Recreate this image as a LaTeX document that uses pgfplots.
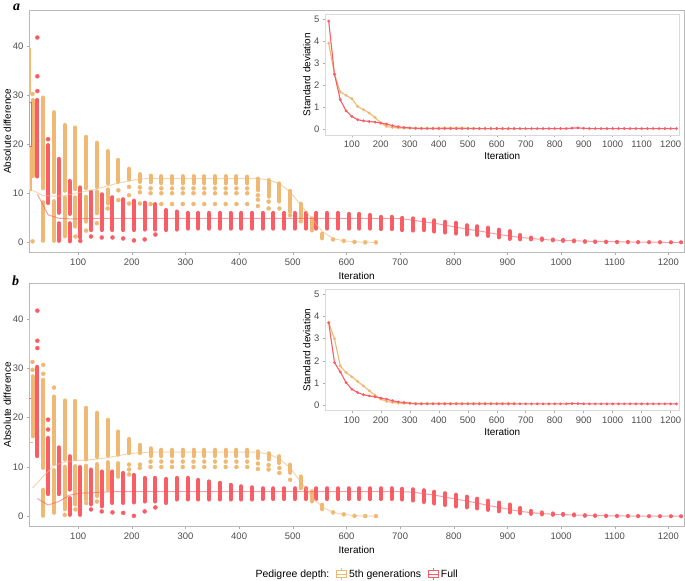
\documentclass[border=0pt]{standalone}
\usepackage{fontspec}
\setmainfont{Liberation Sans}
\newfontfamily\tagfont{Liberation Serif}
\usepackage{pgfplots}
\usepackage{pgfplotstable}
\pgfplotsset{compat=1.18}
\usepgfplotslibrary{statistics}

\definecolor{orng}{RGB}{240,185,115}
\definecolor{redd}{RGB}{249,93,101}
\definecolor{tickgray}{RGB}{77,77,77}

% ---------- panel a ----------
% dense columns of points: iteration, lowest, highest
\pgfplotstableread[row sep=\\]{
it lo hi\\
20 13.5 29.0\\ 40 11.0 29.5\\ 40 0.3 8.2\\ 60 10.2 26.5\\ 60 0.3 8.4\\
80 10.5 23.9\\ 80 1.2 9.1\\ 100 10.8 23.4\\ 100 3.2 9.2\\ 120 11.0 21.5\\ 120 4.2 9.3\\
140 11.3 20.3\\ 140 5.9 10.4\\ 160 12.0 18.6\\ 160 7.9 10.8\\ 180 12.3 16.8\\ 200 12.8 15.0\\
220 12.3 13.9\\ 240 12.2 13.6\\ 260 12.0 13.5\\ 280 12.0 13.5\\ 300 12.0 13.5\\ 320 12.0 13.5\\
340 12.0 13.5\\ 360 12.0 13.5\\ 380 12.0 13.5\\ 400 12.0 13.5\\ 420 12.0 13.4\\ 440 10.6 13.0\\
460 9.3 12.7\\ 480 8.3 12.0\\ 500 6.2 10.5\\ 520 4.9 7.9\\ 540 2.4 4.9\\ 560 0.8 1.8\\
}\aOS
\pgfplotstableread[row sep=\\]{
it y\\
20 30.2\\ 20 0.2\\ 100 1.2\\ 120 2.4\\ 140 3.9\\ 160 6.9\\ 180 10.6\\ 180 8.6\\ 200 11.3\\ 200 9.6\\ 200 7.9\\
220 11.2\\ 220 10.2\\ 220 7.9\\ 240 11.0\\ 240 10.0\\ 240 7.8\\ 260 11.0\\ 260 10.0\\ 260 7.8\\
280 11.0\\ 280 10.0\\ 280 7.8\\ 300 11.0\\ 300 10.0\\ 300 7.8\\ 320 11.0\\ 320 10.0\\ 320 7.8\\
340 11.0\\ 340 10.0\\ 340 7.8\\ 360 11.0\\ 360 10.0\\ 360 7.8\\ 380 11.0\\ 380 10.0\\ 380 7.8\\
400 11.0\\ 400 10.0\\ 400 7.8\\ 420 11.0\\ 420 10.0\\ 420 7.8\\ 440 9.6\\ 440 8.7\\ 440 7.4\\
460 8.3\\ 460 6.9\\ 480 6.9\\ 500 5.5\\ 520 4.3\\ 580 0.6\\ 600 0.3\\ 620 0.1\\ 640 0.0\\ 660 0.0\\
}\aOD
\pgfplotstableread[row sep=\\]{
it m\\
20 10.6\\ 40 9.5\\ 60 9.4\\ 80 9.5\\ 100 10.0\\ 120 10.4\\ 140 10.9\\ 160 11.5\\ 180 12.1\\ 200 12.5\\
220 12.9\\ 240 13.0\\ 440 13.0\\ 460 12.7\\ 480 12.0\\ 500 10.3\\ 520 7.6\\ 540 4.9\\ 560 2.2\\
580 0.8\\ 600 0.3\\ 620 0.1\\ 640 0.05\\ 660 0.0\\
}\aOM
\pgfplotstableread[row sep=\\]{
it lo hi\\
20 13.4 29.0\\ 40 8.0 19.8\\ 60 6.0 17.0\\ 60 0.3 3.9\\ 80 5.8 12.5\\ 80 0.2 3.9\\ 100 1.0 11.2\\
120 2.5 10.3\\ 140 2.5 9.8\\ 160 2.5 9.2\\ 180 2.5 8.8\\ 200 2.5 8.5\\ 220 2.6 8.1\\ 240 2.6 7.8\\
260 2.5 6.6\\ 280 2.6 6.3\\ 300 2.8 6.0\\ 320 2.8 6.0\\ 340 2.8 6.0\\ 360 2.8 6.0\\ 380 2.8 6.0\\
400 2.8 6.0\\ 420 2.8 6.0\\ 440 2.8 6.0\\ 460 2.8 6.0\\ 480 2.8 6.0\\ 500 2.8 6.0\\ 520 2.8 6.0\\
540 2.8 6.0\\ 560 2.8 6.0\\ 580 2.8 6.0\\ 600 2.8 5.8\\ 620 2.8 5.8\\ 640 2.8 5.6\\ 660 2.7 5.2\\
680 2.7 5.2\\ 700 2.5 5.0\\ 720 2.4 4.9\\ 740 2.5 4.7\\ 760 2.2 4.5\\ 780 2.0 4.2\\ 800 1.8 4.0\\
820 1.6 3.5\\ 840 1.5 3.3\\ 860 1.3 3.0\\ 880 1.0 2.6\\ 900 0.7 2.3\\ 920 0.6 1.5\\ 940 0.6 1.0\\
960 0.5 0.8\\ 980 0.4 0.6\\ 1000 0.3 0.5\\ 1020 0.2 0.4\\ 1040 0.1 0.25\\ 1060 0.08 0.2\\
1080 0.05 0.15\\ 1100 0.04 0.12\\ 1120 0.03 0.1\\ 1140 0.02 0.08\\ 1160 0.01 0.06\\
1180 0.0 0.05\\ 1200 0.0 0.04\\ 1220 0.0 0.03\\
}\aRS
\pgfplotstableread[row sep=\\]{
it y\\
20 41.7\\ 20 33.8\\ 20 30.8\\ 40 21.0\\ 100 0.3\\ 120 1.2\\ 140 1.0\\ 160 1.0\\ 180 0.8\\
200 0.4\\ 220 0.6\\ 240 1.6\\
}\aRD
\pgfplotstableread[row sep=\\]{
it m\\
20 9.8\\ 40 5.6\\ 60 4.9\\ 80 4.8\\ 100 4.8\\ 120 4.9\\ 680 4.9\\ 700 4.8\\ 720 4.5\\ 740 4.2\\
760 3.9\\ 780 3.5\\ 800 3.1\\ 820 2.7\\ 840 2.4\\ 860 2.0\\ 880 1.6\\ 900 1.3\\ 920 1.0\\ 940 0.8\\
960 0.6\\ 980 0.47\\ 1000 0.4\\ 1020 0.33\\ 1040 0.25\\ 1060 0.2\\ 1100 0.12\\ 1140 0.06\\
1180 0.03\\ 1220 0.0\\
}\aRM
\pgfplotstableread[row sep=\\]{
it y\\
20 3.9\\ 40 2.5\\ 60 1.7\\ 80 1.55\\ 100 1.4\\ 120 1.05\\ 140 0.9\\ 160 0.75\\ 180 0.55\\ 200 0.3\\
220 0.15\\ 240 0.1\\ 260 0.08\\ 280 0.07\\ 300 0.07\\ 320 0.07\\ 340 0.07\\ 360 0.07\\ 380 0.07\\
400 0.07\\ 420 0.08\\ 440 0.08\\ 460 0.08\\ 480 0.08\\ 500 0.07\\ 520 0.06\\ 540 0.06\\ 560 0.05\\
580 0.05\\ 600 0.05\\ 620 0.05\\ 640 0.05\\ 660 0.05\\
}\aOSD
\pgfplotstableread[row sep=\\]{
it y\\
20 4.9\\ 40 2.5\\ 60 1.35\\ 80 0.85\\ 100 0.6\\ 120 0.45\\ 140 0.4\\ 160 0.37\\ 180 0.34\\ 200 0.3\\
220 0.25\\ 240 0.18\\ 260 0.13\\ 280 0.1\\ 300 0.08\\ 320 0.06\\ 340 0.05\\ 360 0.05\\ 380 0.05\\
400 0.05\\ 420 0.05\\ 440 0.05\\ 460 0.05\\ 480 0.05\\ 500 0.05\\ 520 0.05\\ 540 0.05\\ 560 0.05\\
580 0.05\\ 600 0.05\\ 620 0.05\\ 640 0.05\\ 660 0.05\\ 680 0.05\\ 700 0.05\\ 720 0.05\\ 740 0.05\\
760 0.05\\ 780 0.05\\ 800 0.05\\ 820 0.05\\ 840 0.05\\ 860 0.07\\ 880 0.08\\ 900 0.06\\ 920 0.05\\
940 0.05\\ 960 0.05\\ 980 0.05\\ 1000 0.05\\ 1020 0.05\\ 1040 0.05\\ 1060 0.05\\ 1080 0.05\\
1100 0.05\\ 1120 0.05\\ 1140 0.05\\ 1160 0.05\\ 1180 0.05\\ 1200 0.05\\ 1220 0.05\\
}\aRSD

% ---------- panel b ----------
\pgfplotstableread[row sep=\\]{
it lo hi\\
20 16.2 28.4\\ 40 9.8 27.7\\ 40 0.1 5.4\\ 60 10.6 24.3\\ 60 0.7 9.4\\ 80 11.5 23.5\\ 80 1.4 10.1\\
100 11.6 23.4\\ 100 2.4 10.2\\ 120 11.5 22.0\\ 120 3.4 10.3\\ 140 12.0 21.0\\ 140 4.1 10.6\\
160 12.3 19.6\\ 160 5.4 11.0\\ 180 12.5 17.2\\ 180 8.0 10.8\\ 200 12.8 15.7\\ 220 12.8 14.5\\
240 12.2 13.8\\ 260 12.2 13.5\\ 280 12.2 13.5\\ 300 12.2 13.5\\ 320 12.2 13.5\\ 340 12.2 13.5\\
360 12.2 13.5\\ 380 12.2 13.5\\ 400 12.2 13.5\\ 420 12.2 13.5\\ 440 11.8 13.2\\ 460 11.5 12.8\\
480 10.8 12.2\\ 500 8.8 10.5\\ 520 5.7 8.1\\ 540 3.0 5.1\\ 560 1.4 2.4\\
}\bOS
\pgfplotstableread[row sep=\\]{
it y\\
20 31.3\\ 20 29.7\\ 40 30.7\\ 40 28.9\\ 60 26.1\\ 80 0.3\\ 100 1.4\\ 120 2.7\\ 140 3.0\\
200 10.5\\ 200 9.5\\ 200 8.5\\ 220 10.5\\ 220 9.8\\ 240 11.1\\ 240 10.0\\ 260 11.1\\ 260 10.0\\
280 11.1\\ 280 10.0\\ 300 11.1\\ 300 10.0\\ 320 11.1\\ 320 10.0\\ 340 11.1\\ 340 10.0\\
360 11.1\\ 360 10.0\\ 380 11.1\\ 380 10.0\\ 400 11.1\\ 400 10.0\\ 420 11.1\\ 420 10.0\\
440 10.7\\ 440 9.6\\ 460 10.4\\ 460 9.5\\ 480 9.8\\ 480 8.8\\ 500 7.4\\ 580 0.8\\ 600 0.4\\
620 0.1\\ 640 0.05\\ 660 0.05\\
}\bOD
\pgfplotstableread[row sep=\\]{
it m\\
20 5.7\\ 40 8.1\\ 60 10.3\\ 80 11.0\\ 100 11.3\\ 120 11.4\\ 140 11.6\\ 160 11.9\\ 180 12.3\\
200 12.7\\ 220 12.9\\ 240 13.0\\ 440 13.0\\ 460 12.6\\ 480 11.7\\ 500 9.8\\ 520 7.0\\ 540 4.0\\
560 1.9\\ 580 0.8\\ 600 0.4\\ 620 0.15\\ 640 0.05\\ 660 0.05\\
}\bOM
\pgfplotstableread[row sep=\\]{
it lo hi\\
20 12.2 30.3\\ 40 4.5 15.9\\ 60 4.5 14.0\\ 80 5.4 12.2\\ 80 0.3 3.7\\ 100 0.3 10.0\\
120 2.4 9.5\\ 140 2.0 9.1\\ 160 2.7 9.1\\ 180 2.7 8.8\\ 200 2.8 8.4\\ 220 3.0 7.8\\ 240 3.0 7.8\\
260 2.7 7.6\\ 280 3.4 7.8\\ 300 3.4 7.8\\ 320 3.4 7.4\\ 340 3.4 7.1\\ 360 3.4 6.8\\ 380 3.4 6.4\\
400 3.4 6.1\\ 420 3.4 5.9\\ 440 3.5 5.7\\ 460 3.5 5.7\\ 480 3.5 5.7\\ 500 3.5 5.7\\ 520 3.5 5.7\\
540 3.5 5.7\\ 560 3.5 5.7\\ 580 3.5 5.7\\ 600 3.5 5.7\\ 620 3.5 5.7\\ 640 3.5 5.7\\ 660 3.5 5.7\\
680 3.5 5.7\\ 700 3.4 5.6\\ 720 3.2 5.5\\ 740 2.9 5.3\\ 760 2.6 5.0\\ 780 2.3 4.7\\ 800 2.0 4.4\\
820 1.8 4.0\\ 840 1.6 3.6\\ 860 1.3 3.2\\ 880 1.0 2.8\\ 900 0.8 2.4\\ 920 0.6 1.7\\ 940 0.5 1.1\\
960 0.4 0.8\\ 980 0.3 0.6\\ 1000 0.3 0.5\\ 1020 0.2 0.4\\ 1040 0.1 0.25\\ 1060 0.08 0.2\\
1080 0.05 0.15\\ 1100 0.04 0.12\\ 1120 0.03 0.1\\ 1140 0.02 0.08\\ 1160 0.01 0.06\\
1180 0.0 0.05\\ 1200 0.0 0.04\\ 1220 0.0 0.03\\
}\bRS
\pgfplotstableread[row sep=\\]{
it y\\
20 41.7\\ 20 35.6\\ 20 34.1\\ 40 19.6\\ 40 17.6\\ 120 1.4\\ 140 1.0\\ 160 0.8\\ 180 0.7\\
200 0.1\\ 220 1.0\\ 240 1.8\\
}\bRD
\pgfplotstableread[row sep=\\]{
it m\\
20 3.6\\ 40 2.3\\ 60 3.0\\ 80 4.3\\ 100 4.7\\ 120 4.8\\ 140 4.9\\ 160 5.0\\ 700 5.0\\ 720 4.9\\
740 4.6\\ 760 4.3\\ 780 3.9\\ 800 3.5\\ 820 3.1\\ 840 2.7\\ 860 2.2\\ 880 1.8\\ 900 1.4\\ 920 1.0\\
940 0.75\\ 960 0.55\\ 980 0.45\\ 1000 0.35\\ 1020 0.28\\ 1040 0.2\\ 1060 0.15\\ 1100 0.1\\
1140 0.05\\ 1220 0.02\\
}\bRM
\pgfplotstableread[row sep=\\]{
it y\\
20 3.72\\ 40 3.0\\ 60 1.77\\ 80 1.47\\ 100 1.28\\ 120 1.07\\ 140 0.87\\ 160 0.65\\ 180 0.45\\
200 0.27\\ 220 0.17\\ 240 0.12\\ 260 0.1\\ 280 0.08\\ 300 0.08\\ 320 0.08\\ 340 0.08\\ 360 0.08\\
380 0.08\\ 400 0.08\\ 420 0.08\\ 440 0.08\\ 460 0.08\\ 480 0.08\\ 500 0.08\\ 520 0.08\\ 540 0.08\\
560 0.08\\ 580 0.08\\ 600 0.08\\ 620 0.08\\ 640 0.08\\ 660 0.08\\
}\bOSD
\pgfplotstableread[row sep=\\]{
it y\\
20 3.72\\ 40 1.92\\ 60 1.5\\ 80 1.02\\ 100 0.72\\ 120 0.57\\ 140 0.47\\ 160 0.42\\ 180 0.38\\
200 0.32\\ 220 0.27\\ 240 0.2\\ 260 0.15\\ 280 0.12\\ 300 0.09\\ 320 0.06\\ 340 0.06\\ 360 0.06\\
380 0.06\\ 400 0.06\\ 420 0.06\\ 440 0.06\\ 460 0.06\\ 480 0.06\\ 500 0.06\\ 520 0.06\\ 540 0.06\\
560 0.06\\ 580 0.06\\ 600 0.06\\ 620 0.06\\ 640 0.06\\ 660 0.06\\ 680 0.06\\ 700 0.06\\ 720 0.06\\
740 0.06\\ 760 0.06\\ 780 0.06\\ 800 0.06\\ 820 0.06\\ 840 0.06\\ 860 0.07\\ 880 0.07\\ 900 0.06\\
920 0.06\\ 940 0.06\\ 960 0.06\\ 980 0.06\\ 1000 0.06\\ 1020 0.06\\ 1040 0.06\\ 1060 0.06\\
1080 0.06\\ 1100 0.06\\ 1120 0.06\\ 1140 0.06\\ 1160 0.06\\ 1180 0.06\\ 1200 0.06\\ 1220 0.06\\
}\bRSD

% box: colour, position, lower whisker, q1, median, q3, upper whisker
\newcommand\bx[7]{\addplot[#1, line width=0.6bp, fill=white, forget plot,
  boxplot prepared={draw position=#2, lower whisker=#3, lower quartile=#4,
  median=#5, upper quartile=#6, upper whisker=#7, box extend=9, whisker extend=0}]
  coordinates {};}

\pgfplotsset{
  base/.style={scale only axis, xmin=9, xmax=1229,
    xtick={100,200,...,1200}, tick align=outside, xtick pos=lower, ytick pos=left,
    major tick length=2.5bp, tick style={gray!65, line width=0.5bp},
    axis line style={gray!55, line width=0.6bp},
    ticklabel style={font=\fontsize{9.5}{11}\selectfont, text=tickgray},
    label style={font=\fontsize{10}{12}\selectfont},
    /pgf/number format/1000 sep={}, /pgf/number format/assume math mode=true,
    xlabel={Iteration}},
  mainax/.style={base, width=654.7bp, height=242.7bp, ymin=-2.1, ymax=47.3,
    ytick={0,10,20,30,40}, ylabel={Absolute difference}, ylabel shift=-5bp},
  insetax/.style={base, width=353.5bp, height=121bp, ymin=-0.24, ymax=5.22,
    ytick={0,1,2,3,4,5}, ylabel={Standard deviation}, ylabel shift=-3bp,
    axis background/.style={fill=white}, axis line style={gray!30, line width=0.6bp},
    xlabel style={yshift=2bp}},
  % a dense column of points, drawn as a thick round-capped segment lo -> hi
  colstrip/.style={color=#1, mark=none, forget plot, line width=4bp, line cap=round,
    quiver={u=0, v=\thisrow{hi}-\thisrow{lo}}, -},
  coldot/.style={color=#1, only marks, mark=*, mark size=2bp, forget plot,
    mark options={draw=#1, fill=#1}},
  medl/.style={color=#1, line width=1bp, opacity=0.6, forget plot},
  sdl/.style={color=#1, line width=1.1bp, mark=*, mark size=0.8bp, forget plot},
  boxleg/.style={legend image code/.code={
    \draw[##1] (0bp,-3.5bp) rectangle (10bp,3.5bp);
    \draw[##1] (0bp,0bp) -- (10bp,0bp);
    \draw[##1] (5bp,3.5bp) -- (5bp,6bp);
    \draw[##1] (5bp,-3.5bp) -- (5bp,-6bp);}},
}

\begin{document}
\begin{tikzpicture}
\useasboundingbox (0bp,0bp) rectangle (685bp,581bp);

% ===== panel a =====
\begin{axis}[mainax, at={(29.3bp,328.3bp)}, anchor=south west]
\addplot[colstrip=orng] table[x expr=\thisrow{it}-5, y=lo] {\aOS};
\addplot[colstrip=redd] table[x expr=\thisrow{it}+4, y=lo] {\aRS};
\addplot[coldot=orng] table[x expr=\thisrow{it}-5, y=y] {\aOD};
\addplot[coldot=redd] table[x expr=\thisrow{it}+4, y=y] {\aRD};
\bx{orng}{15}{0.3}{7.8}{10.6}{12.8}{13.5}
\bx{orng}{35}{8.2}{8.3}{9.5}{10.6}{11.0}
\bx{orng}{55}{8.4}{8.6}{9.4}{10.0}{10.2}
\bx{orng}{75}{9.1}{9.3}{9.6}{10.3}{10.5}
\bx{orng}{95}{9.2}{9.4}{10.0}{10.6}{10.8}
\bx{orng}{115}{9.3}{9.6}{10.3}{10.8}{11.0}
\bx{redd}{24}{0.5}{5.4}{9.8}{13.0}{13.4}
\bx{redd}{44}{0.5}{4.2}{5.6}{7.4}{8.0}
\bx{redd}{64}{3.9}{4.1}{4.9}{5.7}{6.0}
\bx{redd}{84}{3.9}{4.2}{4.8}{5.4}{5.8}
\bx{redd}{104}{4.2}{4.4}{4.8}{5.2}{5.4}
\addplot[medl=orng] table[x expr=\thisrow{it}-5, y=m] {\aOM};
\addplot[medl=redd] table[x expr=\thisrow{it}+4, y=m] {\aRM};
\end{axis}

\begin{axis}[insetax, at={(325.5bp,446bp)}, anchor=south west]
\addplot[sdl=orng] table[x=it, y=y] {\aOSD};
\addplot[sdl=redd] table[x=it, y=y] {\aRSD};
\end{axis}

% ===== panel b =====
\begin{axis}[mainax, at={(29.3bp,54.3bp)}, anchor=south west, height=243.7bp,
  legend style={at={(0.5,-0.194)}, anchor=center, draw=none, fill=none,
    legend columns=3, font=\fontsize{10.5}{12}\selectfont,
    /tikz/every even column/.append style={column sep=5bp}}]
\addplot[colstrip=orng] table[x expr=\thisrow{it}-5, y=lo] {\bOS};
\addplot[colstrip=redd] table[x expr=\thisrow{it}+4, y=lo] {\bRS};
\addplot[coldot=orng] table[x expr=\thisrow{it}-5, y=y] {\bOD};
\addplot[coldot=redd] table[x expr=\thisrow{it}+4, y=y] {\bRD};
\bx{orng}{15}{0.3}{3.0}{5.7}{8.4}{16.2}
\bx{orng}{35}{5.4}{6.4}{8.1}{9.8}{9.8}
\bx{orng}{55}{9.4}{9.5}{10.2}{10.6}{10.6}
\bx{orng}{75}{10.1}{10.5}{11.0}{11.5}{11.5}
\bx{orng}{95}{10.2}{10.7}{11.2}{11.6}{11.6}
\bx{orng}{115}{10.3}{10.8}{11.3}{11.5}{11.5}
\bx{orng}{135}{10.6}{11.1}{11.6}{12.0}{12.0}
\bx{orng}{155}{11.0}{11.5}{11.9}{12.3}{12.3}
\bx{redd}{24}{0.3}{1.5}{3.6}{5.9}{12.2}
\bx{redd}{44}{0.3}{1.2}{2.3}{4.0}{4.5}
\bx{redd}{64}{0.5}{2.0}{3.0}{4.3}{4.5}
\bx{redd}{84}{3.7}{4.1}{4.3}{4.9}{5.4}
\bx{redd}{104}{4.3}{4.4}{4.7}{5.1}{5.2}
\addplot[medl=orng] table[x expr=\thisrow{it}-5, y=m] {\bOM};
\addplot[medl=redd] table[x expr=\thisrow{it}+4, y=m] {\bRM};
\addlegendimage{empty legend}
\addlegendentry{Pedigree depth:}
\addlegendimage{orng, line width=0.7bp, boxleg}
\addlegendentry{5th generations}
\addlegendimage{redd, line width=0.7bp, boxleg}
\addlegendentry{Full}
\end{axis}

\begin{axis}[insetax, at={(325.5bp,170.5bp)}, anchor=south west]
\addplot[sdl=orng] table[x=it, y=y] {\bOSD};
\addplot[sdl=redd] table[x=it, y=y] {\bRSD};
\end{axis}

\node[anchor=base west, inner sep=0pt, font=\tagfont\bfseries\itshape\fontsize{14}{14}\selectfont] at (13bp,570bp) {a};
\node[anchor=base west, inner sep=0pt, font=\tagfont\bfseries\itshape\fontsize{14}{14}\selectfont] at (12bp,295bp) {b};
\end{tikzpicture}
\end{document}
